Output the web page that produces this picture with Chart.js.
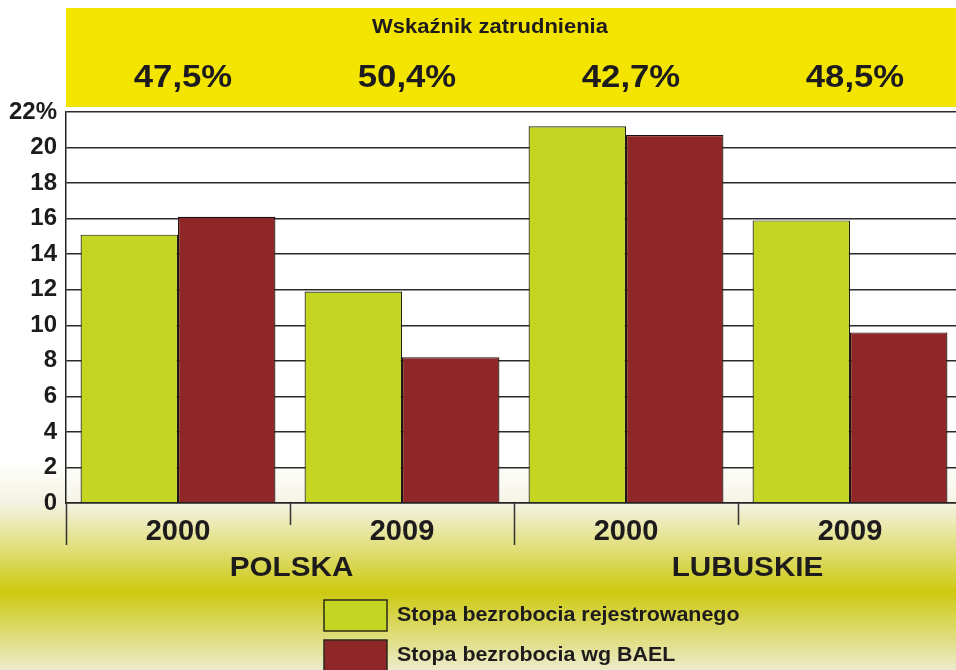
<!DOCTYPE html>
<html lang="pl">
<head>
    <meta charset="UTF-8">
    <title>Stopa bezrobocia</title>
    <script src="https://cdn.jsdelivr.net/npm/chart.js"></script>
    <style>
        html, body {
            margin: 0;
            padding: 0;
            background: #fff;
            overflow: hidden;
        }

        /* the plot runs a few pixels past the right edge of the picture */
        .chart-box {
            width: 962px;
            height: 670px;
        }
    </style>
</head>
<body>
    <div class="chart-box">
        <canvas id="unemploymentChart"></canvas>
    </div>

    <script>
        // Data
        const years = ['2000', '2009', '2000', '2009'];
        const regions = ['POLSKA', 'LUBUSKIE'];
        const registered = [15.1, 11.9, 21.2, 15.9];
        const bael = [16.1, 8.2, 20.7, 9.6];
        const employmentRate = ['47,5%', '50,4%', '42,7%', '48,5%'];
        const seriesNames = ['Stopa bezrobocia rejestrowanego', 'Stopa bezrobocia wg BAEL'];

        const FONT = '"Liberation Sans", Arial, sans-serif';
        const INK = '#1e1b1c';

        // text stretched a little sideways, the original uses a wide grotesque
        function wideText(ctx, text, x, y, sx) {
            ctx.save();
            ctx.translate(x, y);
            ctx.scale(sx, 1);
            ctx.fillText(text, 0, 0);
            ctx.restore();
        }

        // background gradient, yellow band, group labels, axis marks, legend
        const decorations = {
            id: 'decorations',
            beforeDraw(chart) {
                const { ctx, width, height } = chart;
                const g = ctx.createLinearGradient(0, 0, 0, height);
                g.addColorStop(0, '#ffffff');
                g.addColorStop(460 / height, '#ffffff');
                g.addColorStop(505 / height, '#f3f2e0');
                g.addColorStop(592 / height, '#cdca10');
                g.addColorStop(1, '#ecebcb');
                ctx.save();
                ctx.fillStyle = g;
                ctx.fillRect(0, 0, width, height);

                const area = chart.chartArea;
                const pg = ctx.createLinearGradient(0, area.top, 0, area.bottom);
                pg.addColorStop(0, '#ffffff');
                pg.addColorStop((460 - area.top) / (area.bottom - area.top), '#ffffff');
                pg.addColorStop(1, '#f5f4e6');
                ctx.fillStyle = pg;
                ctx.fillRect(area.left, area.top, area.right - area.left, area.bottom - area.top);

                // yellow band
                ctx.fillStyle = '#f3e500';
                ctx.fillRect(area.left, 8, width - area.left, 99);
                ctx.restore();
            },
            afterDraw(chart) {
                const { ctx } = chart;
                const area = chart.chartArea;
                const x = chart.scales.x;
                ctx.save();
                ctx.fillStyle = INK;
                ctx.textAlign = 'center';
                ctx.textBaseline = 'middle';

                ctx.font = 'bold 20px ' + FONT;
                wideText(ctx, 'Wskaźnik zatrudnienia', 490, 27, 1.1);

                ctx.font = 'bold 31px ' + FONT;
                employmentRate.forEach((t, i) => {
                    wideText(ctx, t, x.getPixelForValue(i) + 5, 78, 1.12);
                });

                const step = x.getPixelForValue(1) - x.getPixelForValue(0);
                const edge = i => Math.round(x.getPixelForValue(0) - step / 2 + i * step) + 0.5;

                // region labels, centred under each pair of years
                ctx.font = 'bold 28px ' + FONT;
                regions.forEach((r, i) => {
                    wideText(ctx, r, edge(i * 2 + 1) + (i === 0 ? 1 : 9), 568, 1.06);
                });

                // category separators below the axis
                ctx.strokeStyle = '#333';
                ctx.lineWidth = 1.5;
                for (let i = 0; i <= years.length; i++) {
                    const px = edge(i);
                    const len = i % 2 === 0 ? 42 : 22;
                    ctx.beginPath();
                    ctx.moveTo(px, area.bottom);
                    ctx.lineTo(px, area.bottom + len);
                    ctx.stroke();
                }

                // legend
                const lx = 324, ly = [600, 640];
                ctx.textAlign = 'left';
                ctx.font = 'bold 20px ' + FONT;
                chart.data.datasets.forEach((ds, i) => {
                    ctx.fillStyle = ds.backgroundColor;
                    ctx.fillRect(lx, ly[i], 63, 31);
                    ctx.strokeStyle = '#2a2a1a';
                    ctx.lineWidth = 1.5;
                    ctx.strokeRect(lx, ly[i], 63, 31);
                    ctx.fillStyle = INK;
                    wideText(ctx, seriesNames[i], 397, ly[i] + 15, 1.07);
                });
                ctx.restore();
            }
        };

        new Chart(document.getElementById('unemploymentChart'), {
            type: 'bar',
            data: {
                labels: years,
                datasets: [{
                    label: seriesNames[0],
                    data: registered,
                    backgroundColor: '#c4d622',
                    borderColor: '#1f1f10',
                    borderWidth: 1.2
                }, {
                    label: seriesNames[1],
                    data: bael,
                    backgroundColor: '#8f2729',
                    borderColor: '#1f1010',
                    borderWidth: 1.2
                }]
            },
            options: {
                responsive: true,
                maintainAspectRatio: false,
                animation: false,
                layout: {
                    padding: { top: 112, right: 0, left: 0, bottom: 0 }
                },
                plugins: {
                    legend: { display: false },
                    tooltip: { enabled: false }
                },
                datasets: {
                    bar: {
                        categoryPercentage: 0.87,
                        barPercentage: 1.0
                    }
                },
                scales: {
                    x: {
                        grid: { display: false },
                        border: { color: '#222', width: 1.5 },
                        ticks: {
                            color: INK,
                            font: { family: FONT, size: 29, weight: 'bold' },
                            padding: 4
                        },
                        afterFit(s) { s.height = 167; }
                    },
                    y: {
                        min: 0,
                        max: 22,
                        border: { color: '#222', width: 1.5 },
                        grid: {
                            color: '#2a2a2a',
                            lineWidth: 1.5,
                            tickLength: 0
                        },
                        ticks: {
                            stepSize: 2,
                            color: INK,
                            padding: 9,
                            font: { family: FONT, size: 24, weight: 'bold' },
                            callback: v => v === 22 ? '22%' : String(v)
                        },
                        afterFit(s) { s.width = 66; }
                    }
                }
            },
            plugins: [decorations]
        });
    </script>
</body>
</html>
